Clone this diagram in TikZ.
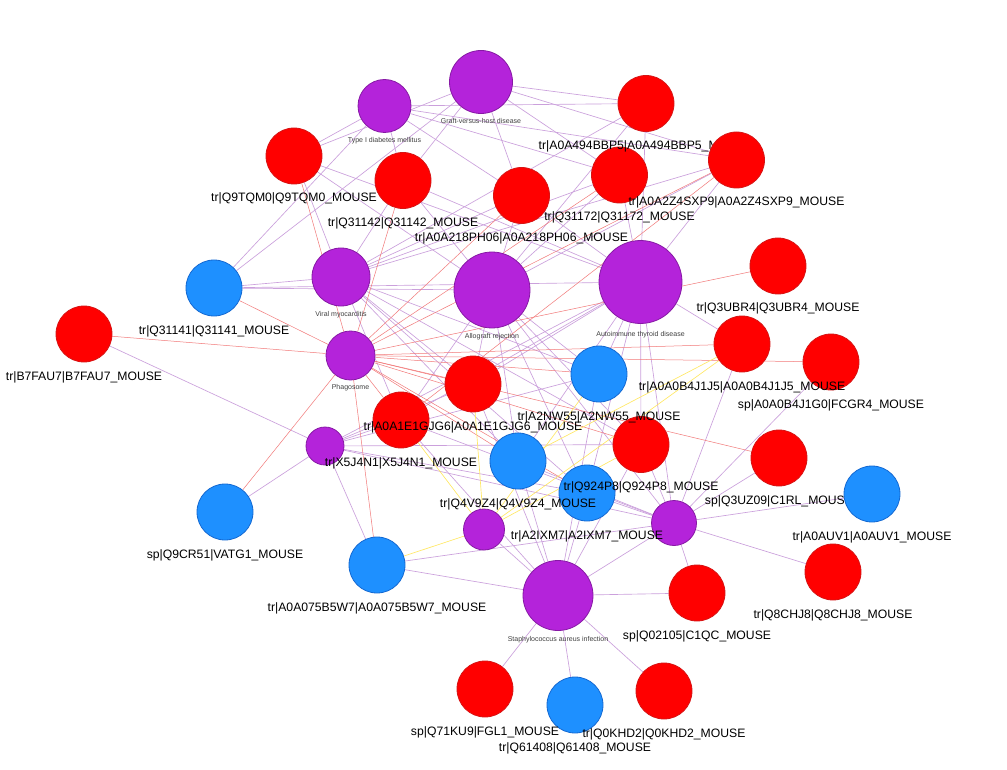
\documentclass[tikz,border=0pt]{standalone}
\usepackage{fontspec}
\setmainfont{Liberation Sans}
\pgfdeclarelayer{back}
\pgfdeclarelayer{bg}
\pgfsetlayers{back,bg,main}
\definecolor{nred}{RGB}{255,0,0}
\definecolor{nredb}{RGB}{215,20,20}
\definecolor{nblue}{RGB}{30,144,255}
\definecolor{nblueb}{RGB}{20,105,210}
\definecolor{npur}{RGB}{180,35,218}
\definecolor{npurb}{RGB}{135,25,165}
\definecolor{epur}{RGB}{203,160,220}
\definecolor{ered}{RGB}{242,120,120}
\definecolor{eyel}{RGB}{255,232,100}
\tikzset{
  rn/.style={circle, fill=nred, draw=nredb, line width=0.8pt, minimum size=56pt, inner sep=0pt},
  bn/.style={circle, fill=nblue, draw=nblueb, line width=0.8pt, minimum size=56pt, inner sep=0pt},
  pn/.style={circle, fill=npur, draw=npurb, line width=0.8pt, inner sep=0pt},
  lab/.style={anchor=base, inner sep=0pt, font=\fontsize{12.2}{14}\selectfont},
  slab/.style={anchor=base, inner sep=0pt, text=black!75, font=\fontsize{7}{8}\selectfont},
  pe/.style={draw=epur, line width=0.65pt},
  re/.style={draw=ered, line width=0.5pt},
  ye/.style={draw=eyel, line width=0.65pt},
}
\begin{document}
\begin{tikzpicture}[x=1pt,y=-1pt]
\useasboundingbox (0,0) rectangle (1007,770);
\begin{pgfonlayer}{back}
\fill[white] (0,0) rectangle (1007,770);
\end{pgfonlayer}
% pathway nodes
\node[pn, minimum size=63pt] (gvh) at (481,82) {};
\node[pn, minimum size=53pt] (tid) at (384.5,106) {};
\node[pn, minimum size=58pt] (vm) at (341,277) {};
\node[pn, minimum size=76pt] (ar) at (492,290) {};
\node[pn, minimum size=83pt] (ait) at (640.5,282) {};
\node[pn, minimum size=49pt] (ph) at (350.5,355.5) {};
\node[pn, minimum size=70pt] (sa) at (558,595.5) {};
\node[pn, minimum size=38pt] (p1) at (325,446) {};
\node[pn, minimum size=41pt] (p2) at (484,529.5) {};
\node[pn, minimum size=45pt] (p3) at (674,523) {};
% red nodes
\node[rn] (q9t) at (294,156) {};
\node[rn] (q142) at (403,180.5) {};
\node[rn] (a218) at (521.5,195.5) {};
\node[rn] (q172) at (619.5,175) {};
\node[rn] (a494) at (646,103.5) {};
\node[rn] (ubr4) at (778,266) {};
\node[rn] (j1j5) at (742,344) {};
\node[rn] (fcgr4) at (831,362) {};
\node[rn] (b7f) at (84,334) {};
\node[rn] (gjg6) at (473,384) {};
\node[rn] (x5j) at (401,420) {};
\node[rn] (q924) at (641,444.5) {};
\node[rn] (c1rl) at (779,458) {};
\node[rn] (q8c) at (833,572) {};
\node[rn] (c1qc) at (697,593) {};
\node[rn] (fgl1) at (485,689) {};
\node[rn] (q0k) at (664,691) {};
% blue nodes
\node[bn] (q141) at (214,288) {};
\node[bn] (nw55) at (599,374) {};
\node[bn] (q4v) at (518,461) {};
\node[bn] (ixm7) at (587,493) {};
\node[bn] (vatg) at (225,512) {};
\node[bn] (b5w7) at (377,565) {};
\node[bn] (q614) at (575,705) {};
% pathway labels
\node[slab] (lgvh) at (481,124) {Graft-versus-host disease};
\node[slab] (ltid) at (384.5,143) {Type I diabetes mellitus};
\node[slab] (lvm) at (341,316.5) {Viral myocarditis};
\node[slab] (lar) at (492,338.5) {Allograft rejection};
\node[slab] (lait) at (640.5,336) {Autoimmune thyroid disease};
\node[slab] (lph) at (350.5,389.5) {Phagosome};
\node[slab] (lsa) at (558,641) {Staphylococcus aureus infection};
% gene labels
\node[lab] (lq9t) at (294,202) {tr|Q9TQM0|Q9TQM0\_MOUSE};
\node[lab] (lq142) at (403,226.5) {tr|Q31142|Q31142\_MOUSE};
\node[lab] (la218) at (521.5,241.5) {tr|A0A218PH06|A0A218PH06\_MOUSE};
\node[lab] (lq172) at (619.5,221) {tr|Q31172|Q31172\_MOUSE};
\node[lab] (la494) at (646,149.5) {tr|A0A494BBP5|A0A494BBP5\_MOUSE};
\node[lab] (lubr4) at (778,312) {tr|Q3UBR4|Q3UBR4\_MOUSE};
\node[lab] (lj1j5) at (742,390) {tr|A0A0B4J1J5|A0A0B4J1J5\_MOUSE};
\node[lab] (lfcgr4) at (831,408) {sp|A0A0B4J1G0|FCGR4\_MOUSE};
\node[lab] (lb7f) at (84,380) {tr|B7FAU7|B7FAU7\_MOUSE};
\node[lab] (lgjg6) at (473,430) {tr|A0A1E1GJG6|A0A1E1GJG6\_MOUSE};
\node[lab] (lx5j) at (401,466) {tr|X5J4N1|X5J4N1\_MOUSE};
\node[lab] (lq924) at (641,490.5) {tr|Q924P8|Q924P8\_MOUSE};
\node[lab] (lc1rl) at (779,504) {sp|Q3UZ09|C1RL\_MOUSE};
\node[lab] (lq8c) at (833,618) {tr|Q8CHJ8|Q8CHJ8\_MOUSE};
\node[lab] (lc1qc) at (697,639) {sp|Q02105|C1QC\_MOUSE};
\node[lab] (lfgl1) at (485,735) {sp|Q71KU9|FGL1\_MOUSE};
\node[lab] (lq0k) at (664,737) {tr|Q0KHD2|Q0KHD2\_MOUSE};
\node[lab] (lq141) at (214,334) {tr|Q31141|Q31141\_MOUSE};
\node[lab] (lnw55) at (599,420) {tr|A2NW55|A2NW55\_MOUSE};
\node[lab] (lq4v) at (518,507) {tr|Q4V9Z4|Q4V9Z4\_MOUSE};
\node[lab] (lixm7) at (587,539) {tr|A2IXM7|A2IXM7\_MOUSE};
\node[lab] (lvatg) at (225,558) {sp|Q9CR51|VATG1\_MOUSE};
\node[lab] (lb5w7) at (377,611) {tr|A0A075B5W7|A0A075B5W7\_MOUSE};
\node[lab] (lq614) at (575,751) {tr|Q61408|Q61408\_MOUSE};
% nodes that cover other labels
\node[rn] (a2z4) at (736.5,160) {};
\node[bn] (auv1) at (872,494) {};
\node[lab] (la2z4) at (736.5,206) {tr|A0A2Z4SXP9|A0A2Z4SXP9\_MOUSE};
\node[lab] (lauv1) at (872,540) {tr|A0AUV1|A0AUV1\_MOUSE};
% edges
\begin{pgfonlayer}{bg}
\foreach \p in {tid,gvh,vm,ar,ait}{
  \foreach \g in {q9t,q142,a218,q172,a494,a2z4,q141}{\draw[pe] (\p) -- (\g);}
}
\foreach \g in {gjg6,x5j,nw55,q4v,ixm7,q924}{\draw[pe] (vm) -- (\g);}
\foreach \g in {gjg6,x5j,nw55,q4v,ixm7,q924,p3}{\draw[pe] (ar) -- (\g);}
\foreach \g in {gjg6,x5j,nw55,q4v,ixm7,q924,j1j5,p3,p1}{\draw[pe] (ait) -- (\g);}
\foreach \g in {b7f,vatg,b5w7,gjg6,x5j,q924,ixm7,nw55,p3}{\draw[pe] (p1) -- (\g);}
\foreach \g in {c1rl,auv1,q8c,c1qc,fcgr4,j1j5,q924,ixm7,q4v,x5j,b5w7}{\draw[pe] (p3) -- (\g);}
\foreach \g in {c1qc,fgl1,q614,q0k,b5w7,p2,p3,ixm7,q4v,q924,nw55,gjg6,x5j}{\draw[pe] (sa) -- (\g);}
\foreach \g in {q9t,q142,a218,q172,a2z4,q141,b7f,vatg,b5w7,ubr4,j1j5,fcgr4,gjg6,x5j,nw55,q924,c1rl,q4v,ixm7}{\draw[re] (ph) -- (\g);}
\draw[re] (a2z4) -- (x5j);
\foreach \g in {b5w7,x5j,gjg6,nw55,j1j5,q924}{\draw[ye] (p2) -- (\g);}
\draw[ye] (j1j5) -- (q4v);
\end{pgfonlayer}
\end{tikzpicture}
\end{document}
